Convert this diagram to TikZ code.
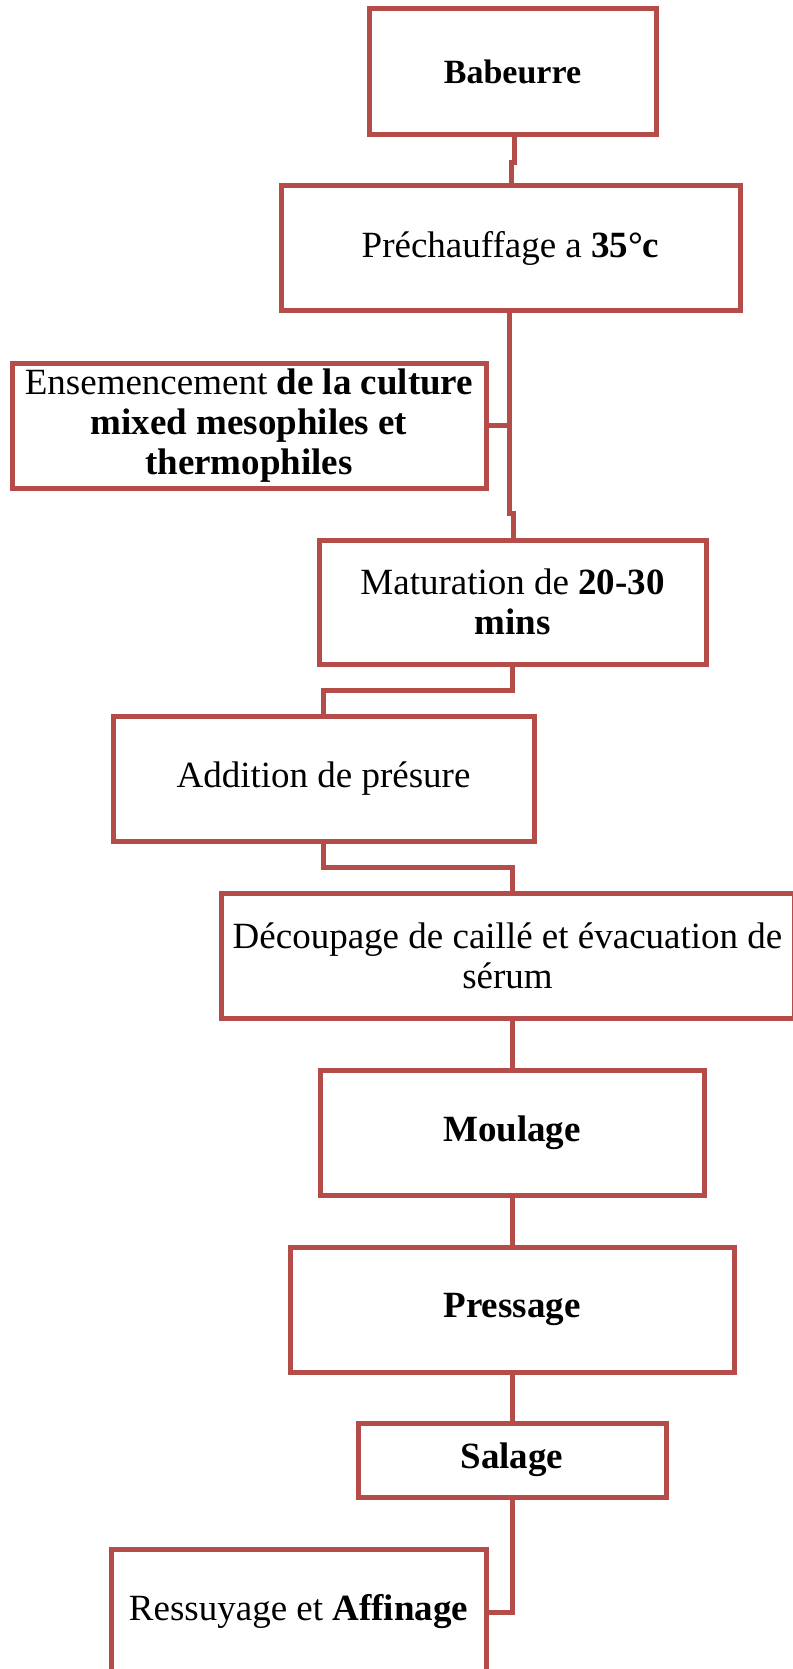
\documentclass[tikz,border=0pt]{standalone}
\usepackage{fontspec}
\setmainfont{Liberation Serif}
\definecolor{boxred}{RGB}{180,77,74}
\tikzset{
  stepbox/.style={draw=boxred, line width=5pt, rectangle, inner sep=0pt,
    align=center, fill=white, font=\fontsize{37}{40}\selectfont},
  conn/.style={draw=boxred, line width=5pt}
}
\begin{document}
\begin{tikzpicture}[x=1pt,y=-1pt]
\useasboundingbox (0,0) rectangle (792,1669);
\fill[white] (0,0) rectangle (792,1669);
% boxes
\node[stepbox, minimum width=287pt, minimum height=126pt, font=\fontsize{34}{38}\selectfont] (bab) at (512.5,72) {\textbf{Babeurre}};
\node[stepbox, minimum width=459pt, minimum height=125pt] (pre) at (510.5,248.5) {Préchauffage a \textbf{35°c}};
\node[stepbox, minimum width=474pt, minimum height=125pt] (ens) at (249,425.5) {Ensemencement \textbf{de la culture}\\\textbf{mixed mesophiles et}\\\textbf{thermophiles}};
\node[stepbox, minimum width=387pt, minimum height=124pt] (mat) at (512.5,602) {Maturation de \textbf{20-30}\\\textbf{mins}};
\node[stepbox, minimum width=421pt, minimum height=125pt] (add) at (323.5,778.5) {Addition de présure};
\node[stepbox, minimum width=573pt, minimum height=125pt] (dec) at (507.5,955.5) {Découpage de caillé et évacuation de\\sérum};
\node[stepbox, minimum width=384pt, minimum height=125pt] (mou) at (512,1132.5) {\textbf{Moulage}};
\node[stepbox, minimum width=444pt, minimum height=125pt] (press) at (512,1309.5) {\textbf{Pressage}};
\node[stepbox, minimum width=308pt, minimum height=74pt] (sal) at (512,1460) {\textbf{Salage}};
\node[stepbox, minimum width=375pt, minimum height=126pt] (res) at (298.5,1612) {Ressuyage et \textbf{Affinage}};
% connectors
\coordinate (j1) at (511,163);
\draw[conn] ([xshift=1.5pt]bab.south) |- (j1) -- (j1 |- pre.north);
\coordinate (t2) at ([xshift=-1.5pt]pre.south);
\coordinate (j2) at (513,513);
\draw[conn] (t2) |- (j2) -- (j2 |- mat.north);
\draw[conn] (ens.east) -- (ens.east -| t2);
\coordinate (j4) at (0,690);
\draw[conn] (mat.south) |- (add.north |- j4) -- (add.north);
\coordinate (j5) at (512,867);
\draw[conn] (add.south) |- (j5) -- (j5 |- dec.north);
\draw[conn] (dec.south -| mou.north) -- (mou.north);
\draw[conn] (mou.south) -- (press.north);
\draw[conn] (press.south) -- (sal.north);
\draw[conn] (sal.south) |- (res.east);
\end{tikzpicture}
\end{document}
